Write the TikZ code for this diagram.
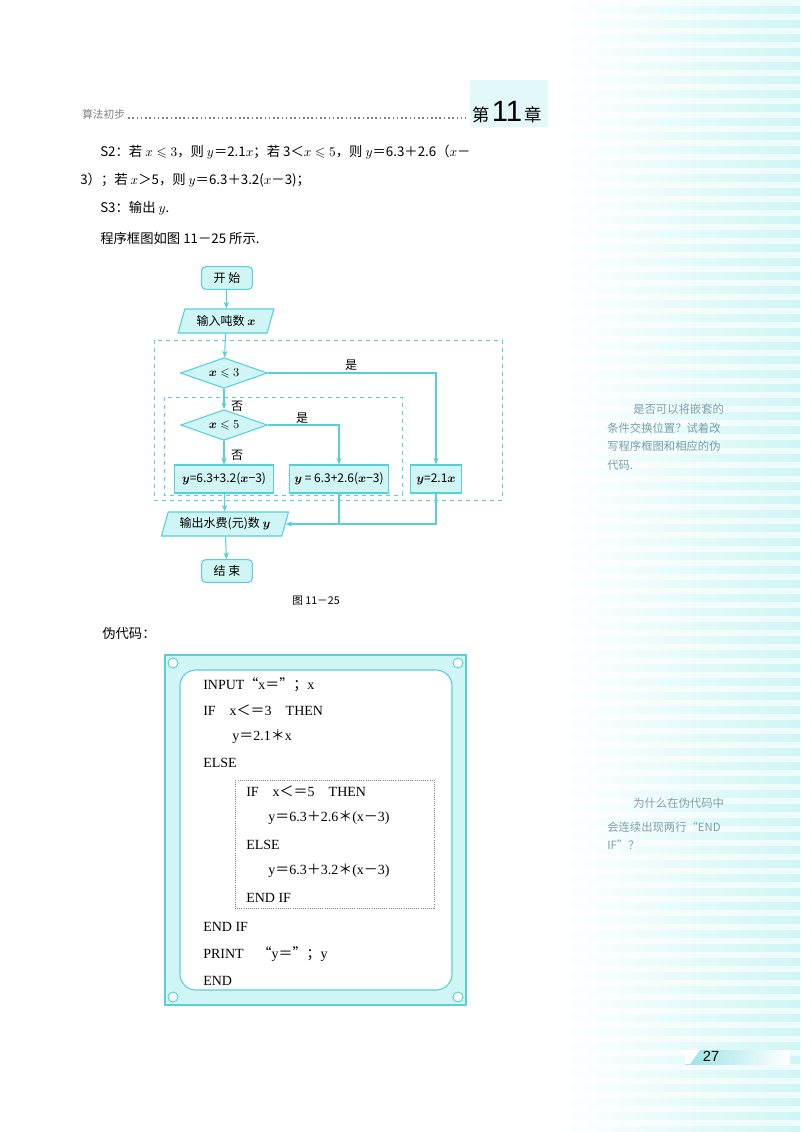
\documentclass[tikz,border=0pt]{standalone}
\usepackage{amsmath,amssymb}
\usepackage{fontspec}
\setmainfont{Liberation Serif}
\newfontfamily\cjk{Noto Sans CJK SC}
\newfontfamily\hsans{Liberation Sans}
\newcommand\cj[1]{{\cjk #1}}
\usetikzlibrary{shapes.geometric,arrows.meta}
\definecolor{cfill}{RGB}{208,245,245}
\definecolor{cline}{RGB}{85,208,214}
\definecolor{note}{RGB}{120,160,170}
\begin{document}
\begin{tikzpicture}[x=0.75pt,y=-0.75pt,
  txt/.style={anchor=west,inner sep=0,font=\cjk\fontsize{10}{12}\selectfont},
  code/.style={anchor=west,inner sep=0,font=\fontsize{10.5}{12}\selectfont},
  fc/.style={font=\cjk\fontsize{9}{11}\selectfont,inner sep=1pt},
  term/.style={fc,draw=cline,fill=cfill,rounded corners=3pt,minimum width=38pt,minimum height=17pt,line width=0.8pt},
  proc/.style={fc,draw=cline,fill=cfill,minimum height=21pt,line width=0.8pt},
  io/.style={fc,draw=cline,fill=cfill,trapezium,trapezium left angle=70,trapezium right angle=110,trapezium stretches=true,minimum height=18pt,line width=0.8pt},
  dec/.style={fc,draw=cline,fill=cfill,diamond,aspect=2.9,minimum width=65pt,minimum height=23pt,inner sep=0pt,line width=0.8pt},
  arr/.style={draw=cline,line width=0.8pt,-{Stealth[length=5pt,width=4pt]}},
  ln/.style={draw=cline,line width=0.8pt},
  dbox/.style={draw=cline,dashed,line width=0.6pt},
  lab/.style={fc}]
\useasboundingbox (0,0) rectangle (800,1132);
\fill[white] (0,0) rectangle (800,1132);
% right margin stripes
\shade[left color=white,right color=cfill] (560,0) rectangle (800,1132);
\foreach \y in {0,14,...,1132}{\fill[white,opacity=0.6] (560,\y) rectangle (800,\y+6);}
% header
\fill[cfill!80!cline!40] (470,80) rectangle (548,127);
\node[txt,font=\cjk\fontsize{8}{10}\selectfont,text=gray] (hd) at (82,114) {算法初步};
\draw[dotted,line width=1.2pt,gray] (128,118) -- (466,118);
\node[anchor=west,inner sep=0] (ch) at (472,112) {{\cjk\fontsize{13}{14}\selectfont 第}\,{\hsans\fontsize{22}{24}\selectfont 11}\,{\cjk\fontsize{13}{14}\selectfont 章}};
% body text
\node[txt] (t1) at (100,152) {S2：若 $x\leqslant3$，则 $y$＝2.1$x$；若 3＜$x\leqslant5$，则 $y$＝6.3＋2.6（$x$－};
\node[txt] (t2) at (80,180) {3）；若 $x$＞5，则 $y$＝6.3＋3.2($x$－3)；};
\node[txt] (t3) at (100,208) {S3：输出 $y$.};
\node[txt] (t4) at (100,238) {程序框图如图 11－25 所示.};
% flowchart
\draw[dbox] (154,340) rectangle (502,500);
\draw[dbox] (164,397) rectangle (402,495);
\node[term] (s) at (227,278) {开 始};
\node[io,minimum width=72pt] (in) at (226,321) {输入吨数 $\boldsymbol{x}$};
\node[dec] (d1) at (224,373) {$\boldsymbol{x}\leqslant3$};
\node[dec] (d2) at (224,425) {$\boldsymbol{x}\leqslant5$};
\node[proc,minimum width=74pt] (b1) at (224,479) {$\boldsymbol{y}$=6.3+3.2($\boldsymbol{x}$−3)};
\node[proc,minimum width=74pt] (b2) at (339,479) {$\boldsymbol{y}$ = 6.3+2.6($\boldsymbol{x}$−3)};
\node[proc,minimum width=38pt] (b3) at (436,479) {$\boldsymbol{y}$=2.1$\boldsymbol{x}$};
\node[io,minimum width=96pt] (out) at (225,524) {输出水费(元)数 $\boldsymbol{y}$};
\node[term] (e) at (227,571) {结 束};
\draw[arr] (s) -- (in);
\draw[arr] (in) -- (d1);
\draw[arr] (d1) -- (d2);
\draw[arr] (d2) -- (b1);
\draw[arr] (b1) -- (out);
\draw[arr] (out) -- (e);
\draw[arr] (d1.east) -| (b3.north);
\draw[arr] (d2.east) -| (b2.north);
\coordinate (j2) at (339,524);
\coordinate (j3) at (436,524);
\draw[ln] (b2.south) -- (j2);
\draw[arr] (b3.south) -- (j3) -- (out.east);
\node[lab] (y1) at (351,365) {是};
\node[lab] (y2) at (302,418) {是};
\node[lab] (n1) at (237,406) {否};
\node[lab] (n2) at (237,455) {否};
\node[fc,font=\cjk\fontsize{8}{10}\selectfont] (cap) at (316,601) {图 11－25};
\node[txt] (pc) at (102,633) {伪代码：};
% code frame
\draw[cline,fill=cfill,line width=0.8pt] (165,655) rectangle (466,1005);
\draw[cline,fill=white,line width=0.8pt,rounded corners=12pt] (180,670) rectangle (452,990);
\foreach \p in {(173,663),(458,663),(173,997),(458,997)}{\draw[cline,fill=white,line width=0.7pt] \p circle (5);}
\draw[gray,densely dotted,line width=0.6pt] (235,780) rectangle (434,908);
\begin{scope}[every node/.style={code}]
\node (c1) at (203,685) {INPUT\cj{“}x\cj{＝”；}x};
\node (c2) at (203,710) {IF\quad x\cj{＜＝}3\quad THEN};
\node (c3) at (232,737) {y\cj{＝}2.1\cj{＊}x};
\node (c4) at (203,763) {ELSE};
\node (c5) at (246,791) {IF\quad x\cj{＜＝}5\quad THEN};
\node (c6) at (268,818) {y\cj{＝}6.3\cj{＋}2.6\cj{＊}(x\cj{－}3)};
\node (c7) at (246,845) {ELSE};
\node (c8) at (268,871) {y\cj{＝}6.3\cj{＋}3.2\cj{＊}(x\cj{－}3)};
\node (c9) at (246,898) {END IF};
\node (c10) at (203,927) {END IF};
\node (c11) at (203,954) {PRINT\quad\cj{“}y\cj{＝”；}y};
\node (c12) at (203,981) {END};
\end{scope}
% side notes
\begin{scope}[every node/.style={anchor=west,inner sep=0,font=\cjk\fontsize{8.5}{10}\selectfont,text=note}]
\node (s1) at (633,409) {是否可以将嵌套的};
\node (s2) at (607,428) {条件交换位置？试着改};
\node (s3) at (607,446) {写程序框图和相应的伪};
\node (s4) at (607,465) {代码.};
\node (s5) at (633,803) {为什么在伪代码中};
\node (s6) at (607,827) {会连续出现两行“END};
\node (s7) at (607,845) {IF”？};
\end{scope}
% page number
\shade[left color=cline!60,right color=white] (685,1050) rectangle (790,1064);
\fill[white] (685,1050) -- (700,1050) -- (690,1064) -- (685,1064) -- cycle;
\node[anchor=center,inner sep=0,font=\hsans\fontsize{11}{12}\selectfont] (pg) at (711,1056) {27};
\end{tikzpicture}
\end{document}
